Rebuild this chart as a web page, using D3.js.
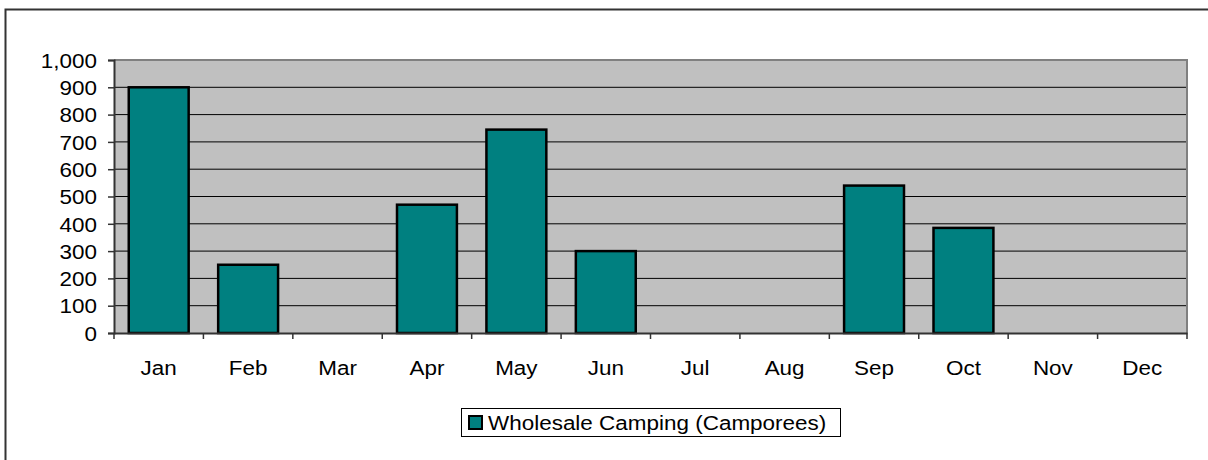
<!DOCTYPE html>
<html><head><meta charset="utf-8">
<script src="https://cdn.jsdelivr.net/npm/d3@7"></script>
<style>
html,body{margin:0;padding:0;background:#fff;overflow:hidden;}
svg{display:block;font-family:Arial,"Liberation Sans",sans-serif;}
</style></head>
<body>
<svg id="chart" width="1208" height="460"></svg>
<script>
const months = ["Jan","Feb","Mar","Apr","May","Jun","Jul","Aug","Sep","Oct","Nov","Dec"];
const values = [900,250,0,470,745,300,0,0,540,385,0,0];
const yTicks = [0,100,200,300,400,500,600,700,800,900,1000];
const seriesName = "Wholesale Camping (Camporees)";

const svg = d3.select("#chart");
const FS = 21, SX = 1.07;
const plot = {left:114, right:1187, top:60, bottom:333};

// outer border (only left/top visible)
svg.append("path").attr("d","M5.5,470V9.5H1220")
  .attr("fill","none").attr("stroke","#333").attr("stroke-width",2);

const x = d3.scaleBand().domain(months).range([plot.left, plot.right])
  .paddingInner(0.33).paddingOuter(0.165);
const y = d3.scaleLinear().domain([0,1000]).range([plot.bottom, plot.top]);

// plot background
svg.append("rect").attr("x",plot.left).attr("y",plot.top)
  .attr("width",plot.right-plot.left).attr("height",plot.bottom-plot.top)
  .attr("fill","#c0c0c0");

// gridlines
svg.append("g").selectAll("line").data(yTicks.filter(d=>d>0 && d<1000)).join("line")
  .attr("x1",plot.left).attr("x2",plot.right)
  .attr("y1",d=>y(d)).attr("y2",d=>y(d))
  .attr("stroke","#000").attr("stroke-width",1);

// plot border top/right
svg.append("path").attr("d",`M${plot.left},${plot.top}H${plot.right}V${plot.bottom}`)
  .attr("fill","none").attr("stroke","#808080").attr("stroke-width",2);

// bars
svg.append("g").selectAll("rect").data(months.map((m,i)=>({m,v:values[i]})).filter(d=>d.v>0)).join("rect")
  .attr("x",d=>x(d.m)).attr("width",x.bandwidth())
  .attr("y",d=>y(d.v)).attr("height",d=>y(0)-y(d.v))
  .attr("fill","#008080").attr("stroke","#000").attr("stroke-width",2.5);

// y axis
const yAxis = svg.append("g").attr("transform",`translate(${plot.left},0)`)
  .call(d3.axisLeft(y).tickValues(yTicks).tickFormat(d3.format(",")).tickSize(6).tickPadding(0));
yAxis.select(".domain").attr("stroke","#333").attr("stroke-width",2);
yAxis.selectAll(".tick line").attr("stroke","#333").attr("stroke-width",1.5);
yAxis.selectAll(".tick text").attr("font-size",FS).attr("fill","#000")
  .attr("text-anchor","end").attr("x",0).attr("dy",null)
  .attr("dominant-baseline","central")
  .attr("transform",`translate(-17,0) scale(${SX},1)`);

// x axis
const xAxis = svg.append("g").attr("transform",`translate(0,${plot.bottom})`)
  .call(d3.axisBottom(x).tickSize(0).tickPadding(0));
xAxis.select(".domain").attr("stroke","#333").attr("stroke-width",2);
xAxis.selectAll(".tick text").attr("font-size",FS).attr("fill","#000")
  .attr("y",0).attr("dy",null)
  .attr("transform",`translate(0,42) scale(${SX},1)`);
// category boundary ticks
const bounds = months.map(m=>x(m)-x.step()*x.paddingInner()/2).concat([plot.right]);
svg.append("g").selectAll("line").data(bounds).join("line")
  .attr("x1",d=>d).attr("x2",d=>d).attr("y1",plot.bottom).attr("y2",plot.bottom+6)
  .attr("stroke","#333").attr("stroke-width",1.5);

// legend
const lg = svg.append("g");
lg.append("rect").attr("x",461.5).attr("y",408.5).attr("width",379).attr("height",28)
  .attr("fill","#fff").attr("stroke","#000").attr("stroke-width",1);
lg.append("rect").attr("x",469).attr("y",416).attr("width",13).attr("height",13)
  .attr("fill","#008080").attr("stroke","#000").attr("stroke-width",2);
lg.append("text").attr("font-size",FS).attr("fill","#000")
  .attr("dominant-baseline","central")
  .attr("transform",`translate(488,423) scale(${SX},1)`).text(seriesName);
</script>
</body></html>
